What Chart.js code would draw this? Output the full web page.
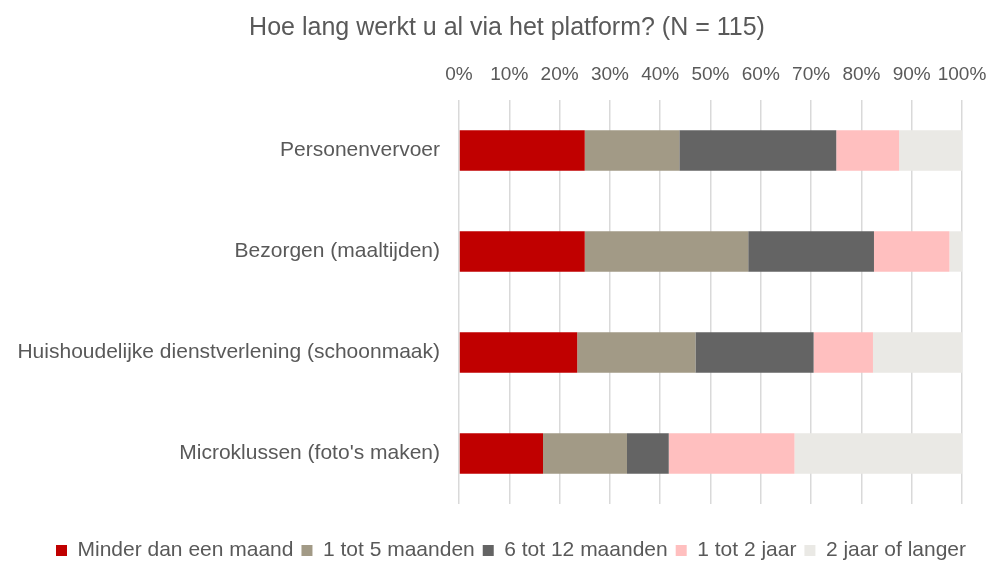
<!DOCTYPE html>
<html>
<head>
<meta charset="utf-8">
<script src="https://cdn.jsdelivr.net/npm/chart.js@4"></script>
<style>
  html, body { margin: 0; padding: 0; background: #fff; }
  #wrap { width: 989px; height: 562px; }
</style>
</head>
<body>
<div id="wrap"><canvas id="durationChart" width="989" height="562"></canvas></div>
<script>
// Data (percent of respondents per platform type)
const categories = [
    'Personenvervoer',
    'Bezorgen (maaltijden)',
    'Huishoudelijke dienstverlening (schoonmaak)',
    "Microklussen (foto's maken)"
];
const seriesNames = ['Minder dan een maand', '1 tot 5 maanden', '6 tot 12 maanden', '1 tot 2 jaar', '2 jaar of langer'];
const minderDanMaand = [25, 25, 23.5, 16.7];
const eenTotVijfMaanden = [18.8, 32.5, 23.5, 16.7];
const zesTotTwaalfMaanden = [31.2, 25, 23.5, 8.3];
const eenTotTweeJaar = [12.5, 15, 11.8, 25];
const tweeJaarOfLanger = [12.5, 2.5, 17.7, 33.3];
const tickValues = [0, 10, 20, 30, 40, 50, 60, 70, 80, 90, 100];

const colors = ['#c00000', '#a29a86', '#646464', '#ffbfbf', '#eae9e5'];
const textColor = '#595959';

Chart.defaults.font.family = "'Liberation Sans', Arial, sans-serif";
Chart.defaults.color = textColor;

const seriesData = [minderDanMaand, eenTotVijfMaanden, zesTotTwaalfMaanden, eenTotTweeJaar, tweeJaarOfLanger];

// title and legend sit centred under the whole picture, not just the plot box
const shiftBlocks = {
    id: 'shiftBlocks',
    afterLayout(chart) {
        const t = chart.titleBlock, l = chart.legend;
        if (t) { t.left += 26; t.right += 26; }
        if (l) { l.left += 30; l.right += 30; }
    }
};

const ctx = document.getElementById('durationChart').getContext('2d');
new Chart(ctx, {
    type: 'bar',
    data: {
        labels: categories,
        datasets: seriesNames.map((name, i) => ({
            label: name,
            data: seriesData[i],
            backgroundColor: colors[i],
            borderWidth: 0,
            categoryPercentage: 1,
            barPercentage: 0.4
        }))
    },
    options: {
        indexAxis: 'y',
        responsive: false,
        animation: false,
        layout: {
            padding: { left: 0, right: 27, top: 0, bottom: -9 }
        },
        scales: {
            x: {
                position: 'top',
                stacked: true,
                min: 0,
                max: 100,
                afterBuildTicks: (scale) => {
                    scale.ticks = tickValues.map(v => ({ value: v }));
                },
                afterFit: (scale) => {
                    scale.height = 49;
                    scale.paddingLeft = 0;
                    scale.paddingRight = 0;
                },
                ticks: {
                    padding: 14,
                    autoSkip: false,
                    maxRotation: 0,
                    minRotation: 0,
                    font: { size: 19 },
                    color: textColor,
                    callback: (v) => v + '%'
                },
                grid: {
                    color: '#d9d9d9',
                    lineWidth: 1.5,
                    drawTicks: false
                },
                border: { display: false }
            },
            y: {
                stacked: true,
                afterFit: (scale) => { scale.width = 459; },
                ticks: {
                    padding: 19,
                    font: { size: 21 },
                    color: textColor
                },
                grid: { display: false, drawTicks: false },
                border: { display: false }
            }
        },
        plugins: {
            title: {
                display: true,
                text: 'Hoe lang werkt u al via het platform? (N = 115)',
                color: textColor,
                font: { size: 25, weight: 'normal' },
                padding: { top: 13, bottom: 8 }
            },
            legend: {
                position: 'bottom',
                title: {
                    display: true,
                    text: ' ',
                    font: { size: 10 },
                    padding: { top: 16, bottom: 0 }
                },
                labels: {
                    boxWidth: 11,
                    boxHeight: 11,
                    padding: 8,
                    font: { size: 21 },
                    color: textColor
                }
            },
            tooltip: { enabled: false }
        }
    },
    plugins: [shiftBlocks]
});
</script>
</body>
</html>
